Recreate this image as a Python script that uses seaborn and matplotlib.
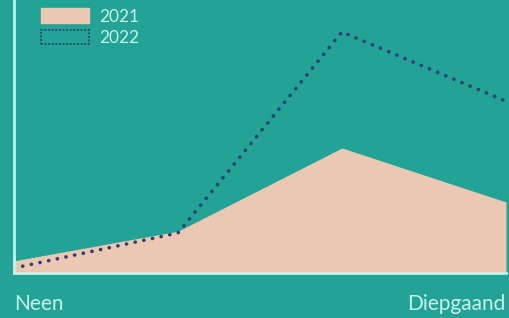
import matplotlib
matplotlib.use("Agg")
import matplotlib.pyplot as plt
from matplotlib.patches import Patch
import seaborn as sns
import pandas as pd

# categories (only the outer ones are labelled in the chart)
categories = ["Neen", "", "", "Diepgaand"]
vals_2021 = [2.7, 9.3, 27.8, 15.8]
vals_2022 = [1.1, 8.9, 53.6, 38.2]

bg = "#22a396"
peach = "#ecc8b2"
navy = "#2e3f73"
light = "#c4f2ec"

df = pd.DataFrame({"x": range(len(categories)), "y2021": vals_2021, "y2022": vals_2022})

sns.set_theme(style="white")
plt.rcParams["font.family"] = ["Lato", "DejaVu Sans"]

fig = plt.figure(figsize=(5.09, 3.18), dpi=100, facecolor=bg)
ax = fig.add_axes([0.0275, 0.1415, 0.9665, 0.8585])
ax.set_facecolor(bg)

ax.fill_between(df["x"], 0, df["y2021"], color=peach, linewidth=0, zorder=2)
sns.lineplot(data=df, x="x", y="y2022", ax=ax, color=navy, linewidth=2.6, zorder=3)
line = ax.get_lines()[-1]
line.set_linestyle((0, (0.05, 2.4)))
line.set_dash_capstyle("round")

ax.set_xlim(0, 3)
ax.set_ylim(0, 60.7)
ax.set_xlabel("")
ax.set_ylabel("")
ax.set_yticks([])
ax.set_xticks([0, 3])
ax.set_xticklabels([categories[0], categories[-1]], color=light, fontsize=15)
ax.tick_params(axis="x", length=0, pad=15)
ax.get_xticklabels()[0].set_ha("left")
ax.get_xticklabels()[1].set_ha("right")

for s in ["top", "right"]:
    ax.spines[s].set_visible(False)
for s in ["left", "bottom"]:
    ax.spines[s].set_color(light)
    ax.spines[s].set_linewidth(2)
    ax.spines[s].set_zorder(4)

handles = [Patch(facecolor=peach, edgecolor=peach, label="2021"),
           Patch(facecolor=bg, edgecolor=navy, linestyle=(0, (1, 1)), linewidth=1.3, label="2022")]
leg = ax.legend(handles=handles, loc="upper left", bbox_to_anchor=(0.04, 0.995),
                frameon=False, fontsize=12.5, handlelength=2.8, handleheight=0.9,
                handletextpad=0.6, labelspacing=0.3, borderaxespad=0)
for t in leg.get_texts():
    t.set_color(light)

fig.savefig("out.png", dpi=100, facecolor=bg)
